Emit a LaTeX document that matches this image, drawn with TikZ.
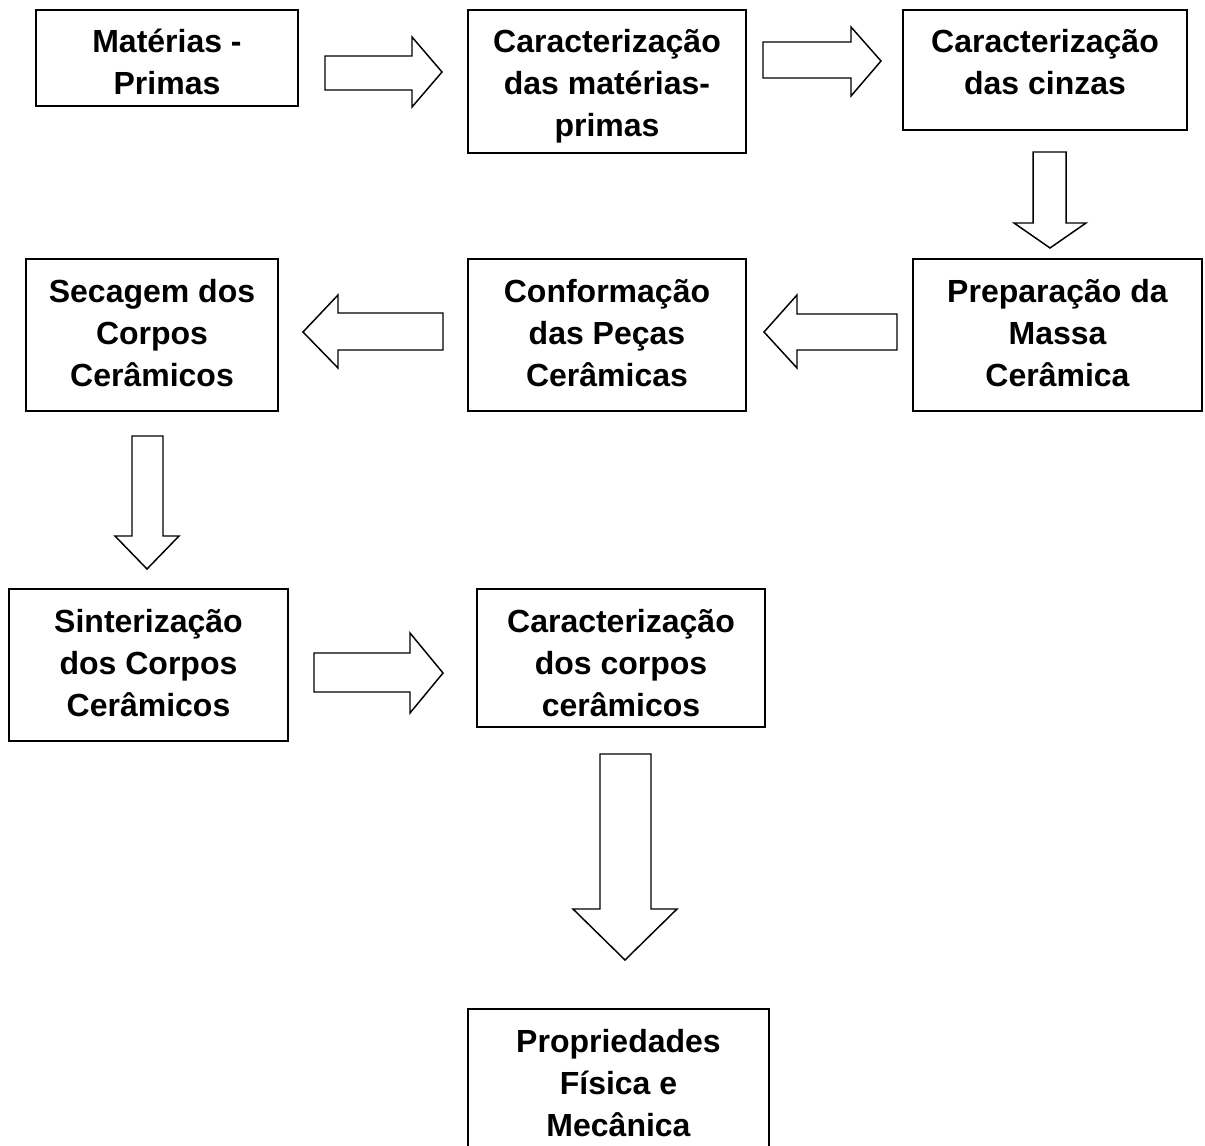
\documentclass[tikz,border=0pt]{standalone}
\usepackage{fontspec}
\setmainfont{Liberation Sans}
\tikzset{
  stepbox/.style={draw=black, line width=1.1pt, inner sep=0pt, outer sep=0pt, fill=white},
  blockarrow/.style={draw=black, line width=1.1pt, fill=white, line join=miter}
}
\newcommand{\flowbox}[6]{%
  \pgfmathsetmacro{\bw}{(#4-#2)*0.75}%
  \pgfmathsetmacro{\bh}{(#5-#3)*0.75}%
  \node[stepbox, anchor=north west] (#1) at (#2,#3)
   {\begin{minipage}[c][\bh pt][t]{\bw pt}\centering\fontsize{24}{31.5}\selectfont\bfseries\rule{0pt}{32.25pt}#6\end{minipage}};}
\begin{document}
\begin{tikzpicture}[x=0.75pt, y=-0.75pt]
\useasboundingbox (0,0) rectangle (1205,1145);
\clip (0,0) rectangle (1205,1145);
\fill[white] (0,0) rectangle (1205,1145);

\flowbox{b1}{36}{10}{298}{106}{Matérias -\\Primas}
\flowbox{b2}{468}{10}{746}{153}{Caracterização\\das matérias-\\primas}
\flowbox{b3}{903}{10}{1187}{130}{Caracterização\\das cinzas}
\flowbox{b4}{913}{259}{1202}{411}{Preparação da\\Massa\\Cerâmica}
\flowbox{b5}{468}{259}{746}{411}{Conformação\\das Peças\\Cerâmicas}
\flowbox{b6}{26}{259}{278}{411}{Secagem dos\\Corpos\\Cerâmicos}
\flowbox{b7}{9}{589}{288}{741}{Sinterização\\dos Corpos\\Cerâmicos}
\flowbox{b8}{477}{589}{765}{727}{Caracterização\\dos corpos\\cerâmicos}
\flowbox{b9}{468}{1009}{769}{1165}{Propriedades\\Física e\\Mecânica}

% block arrows
\draw[blockarrow] (325,56) -- (412,56) -- (412,37) -- (442,72) -- (412,107) -- (412,90) -- (325,90) -- cycle;
\draw[blockarrow] (763,42) -- (851,42) -- (851,27) -- (881,61) -- (851,96) -- (851,78) -- (763,78) -- cycle;
\draw[blockarrow] (1033,152) -- (1066,152) -- (1066,223) -- (1086,223) -- (1050,248) -- (1014,223) -- (1033,223) -- cycle;
\draw[blockarrow] (897,314) -- (797,314) -- (797,295) -- (764,332) -- (797,368) -- (797,350) -- (897,350) -- cycle;
\draw[blockarrow] (443,313) -- (338,313) -- (338,295) -- (303,332) -- (338,368) -- (338,350) -- (443,350) -- cycle;
\draw[blockarrow] (132,436) -- (163,436) -- (163,536) -- (179,536) -- (147,569) -- (115,536) -- (132,536) -- cycle;
\draw[blockarrow] (314,653) -- (410,653) -- (410,633) -- (443,673) -- (410,713) -- (410,692) -- (314,692) -- cycle;
\draw[blockarrow] (600,754) -- (651,754) -- (651,909) -- (677,909) -- (625,960) -- (573,909) -- (600,909) -- cycle;
\end{tikzpicture}
\end{document}
